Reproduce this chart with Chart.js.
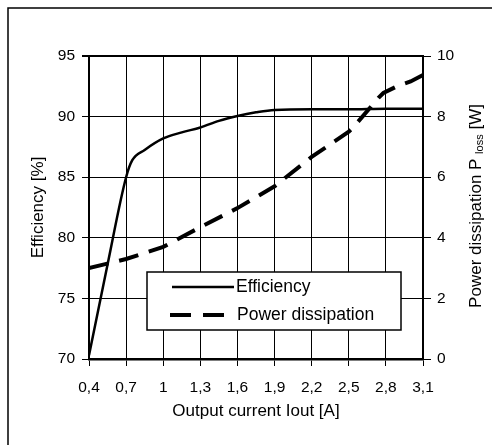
<!DOCTYPE html>
<html>
<head>
<meta charset="utf-8">
<script src="https://cdn.jsdelivr.net/npm/chart.js@4/dist/chart.umd.min.js"></script>
<style>
    html, body { margin: 0; padding: 0; background: #fff; }
    #wrap { width: 492px; height: 445px; }
</style>
</head>
<body>
<div id="wrap"><canvas id="grafico" width="492" height="445"></canvas></div>
<script>
// Eixo x: corrente de saída [A]
const currentTicks = [0.4, 0.7, 1.0, 1.3, 1.6, 1.9, 2.2, 2.5, 2.8, 3.1];
const currentTickLabels = ['0,4', '0,7', '1', '1,3', '1,6', '1,9', '2,2', '2,5', '2,8', '3,1'];

// Eficiência [%]
const effCurrent = [0.4, 0.55, 0.7, 0.75, 0.85, 1.0, 1.15, 1.3, 1.45, 1.6, 1.75, 1.9, 2.2, 2.5, 2.8, 3.1];
const efficiency = [70.3, 77.8, 85.0, 86.4, 87.25, 88.2, 88.7, 89.1, 89.65, 90.05, 90.35, 90.55, 90.6, 90.6, 90.65, 90.65];

// Dissipação de potência [W]
const lossCurrent = [0.4, 0.7, 1.0, 1.3, 1.6, 1.9, 2.2, 2.5, 2.53, 2.6, 2.74, 2.78, 2.9, 3.0, 3.1];
const powerLoss = [3.0, 3.3, 3.7, 4.35, 4.98, 5.7, 6.67, 7.5, 7.62, 7.95, 8.62, 8.78, 9.02, 9.16, 9.37];

const seriesLabels = ['Efficiency', 'Power dissipation'];

const FONTE = '"Liberation Sans", Arial, sans-serif';

const toPoints = (xs, ys) => xs.map((x, i) => ({ x, y: ys[i] }));

// Moldura externa (só esquerda e topo aparecem no recorte)
const moldura = {
    id: 'moldura',
    afterDraw(chart) {
        const { ctx } = chart;
        ctx.save();
        ctx.strokeStyle = '#000';
        ctx.lineWidth = 1.5;
        ctx.beginPath();
        ctx.moveTo(8, 445);
        ctx.lineTo(8, 8);
        ctx.lineTo(492, 8);
        ctx.stroke();
        ctx.restore();
    }
};

// Legenda dentro da área do gráfico
const legendaInterna = {
    id: 'legendaInterna',
    afterDatasetsDraw(chart) {
        const { ctx } = chart;
        const sets = chart.data.datasets;
        ctx.save();
        ctx.fillStyle = '#fff';
        ctx.fillRect(147, 272, 254, 58);
        ctx.strokeStyle = '#000';
        ctx.lineWidth = 1.5;
        ctx.strokeRect(147, 272, 254, 58);

        ctx.lineWidth = sets[0].borderWidth;
        ctx.beginPath();
        ctx.moveTo(172, 287);
        ctx.lineTo(234, 287);
        ctx.stroke();

        ctx.lineWidth = sets[1].borderWidth;
        ctx.setLineDash([21, 12]);
        ctx.beginPath();
        ctx.moveTo(170, 315);
        ctx.lineTo(224, 315);
        ctx.stroke();
        ctx.setLineDash([]);

        ctx.fillStyle = '#000';
        ctx.font = '17.5px ' + FONTE;
        ctx.textBaseline = 'middle';
        ctx.fillText(sets[0].label, 236, 287);
        ctx.fillText(sets[1].label, 237, 315);
        ctx.restore();
    }
};

// Título do eixo direito com subscrito
const tituloDireito = {
    id: 'tituloDireito',
    afterDraw(chart) {
        const { ctx } = chart;
        const principal = 'Power dissipation P ';
        const sub = 'loss';
        const fim = ' [W]';
        ctx.save();
        ctx.translate(476, 206);
        ctx.rotate(-Math.PI / 2);
        ctx.fillStyle = '#000';
        ctx.textBaseline = 'middle';
        ctx.font = '17px ' + FONTE;
        const w1 = ctx.measureText(principal).width;
        const w3 = ctx.measureText(fim).width;
        ctx.font = '11px ' + FONTE;
        const w2 = ctx.measureText(sub).width;
        let x = -(w1 + w2 + w3) / 2;
        ctx.font = '17px ' + FONTE;
        ctx.fillText(principal, x, 0);
        ctx.font = '11px ' + FONTE;
        ctx.fillText(sub, x + w1, 4);
        ctx.font = '17px ' + FONTE;
        ctx.fillText(fim, x + w1 + w2, 0);
        ctx.restore();
    }
};

const tickFont = { family: FONTE, size: 15.5 };
const titleFont = { family: FONTE, size: 17 };

const ctx = document.getElementById('grafico').getContext('2d');
new Chart(ctx, {
    type: 'line',
    data: {
        datasets: [{
            label: seriesLabels[0],
            data: toPoints(effCurrent, efficiency),
            yAxisID: 'y',
            borderColor: '#000',
            borderWidth: 2.5,
            pointRadius: 0,
            cubicInterpolationMode: 'monotone',
            fill: false
        }, {
            label: seriesLabels[1],
            data: toPoints(lossCurrent, powerLoss),
            yAxisID: 'y1',
            borderColor: '#000',
            borderWidth: 4,
            borderDash: [20, 11],
            pointRadius: 0,
            tension: 0,
            fill: false
        }]
    },
    options: {
        responsive: false,
        animation: false,
        layout: {
            padding: { top: 56, left: 0, right: 0, bottom: 0 }
        },
        plugins: {
            legend: { display: false },
            tooltip: { enabled: false }
        },
        scales: {
            x: {
                type: 'linear',
                min: 0.4,
                max: 3.1,
                afterBuildTicks: (s) => { s.ticks = currentTicks.map(v => ({ value: v })); },
                afterFit: (s) => { s.height = 86; },
                ticks: {
                    color: '#000',
                    font: tickFont,
                    padding: 12,
                    maxRotation: 0,
                    autoSkip: false,
                    callback: (v) => currentTickLabels[currentTicks.indexOf(v)]
                },
                grid: { color: '#000', lineWidth: 1, tickLength: 7 },
                border: { color: '#000', width: 2.5 },
                title: {
                    display: true,
                    text: 'Output current Iout [A]',
                    color: '#000',
                    font: titleFont,
                    padding: { top: 0, bottom: 23 }
                }
            },
            y: {
                position: 'left',
                min: 70,
                max: 95,
                afterFit: (s) => { s.width = 89; },
                ticks: { stepSize: 5, color: '#000', font: tickFont, padding: 7 },
                grid: {
                    color: '#000',
                    lineWidth: (c) => (c.tick && c.tick.value === 95 ? 2 : 1),
                    tickLength: 7
                },
                border: { color: '#000', width: 2 },
                title: {
                    display: true,
                    text: 'Efficiency [%]',
                    color: '#000',
                    font: titleFont,
                    padding: { top: 28, bottom: 0 }
                }
            },
            y1: {
                position: 'right',
                min: 0,
                max: 10,
                afterFit: (s) => { s.width = 69; },
                ticks: { stepSize: 2, color: '#000', font: tickFont, padding: 6 },
                grid: { drawOnChartArea: false, color: '#000', lineWidth: 1, tickLength: 8 },
                border: { color: '#000', width: 2 }
            }
        }
    },
    plugins: [moldura, legendaInterna, tituloDireito]
});
</script>
</body>
</html>
